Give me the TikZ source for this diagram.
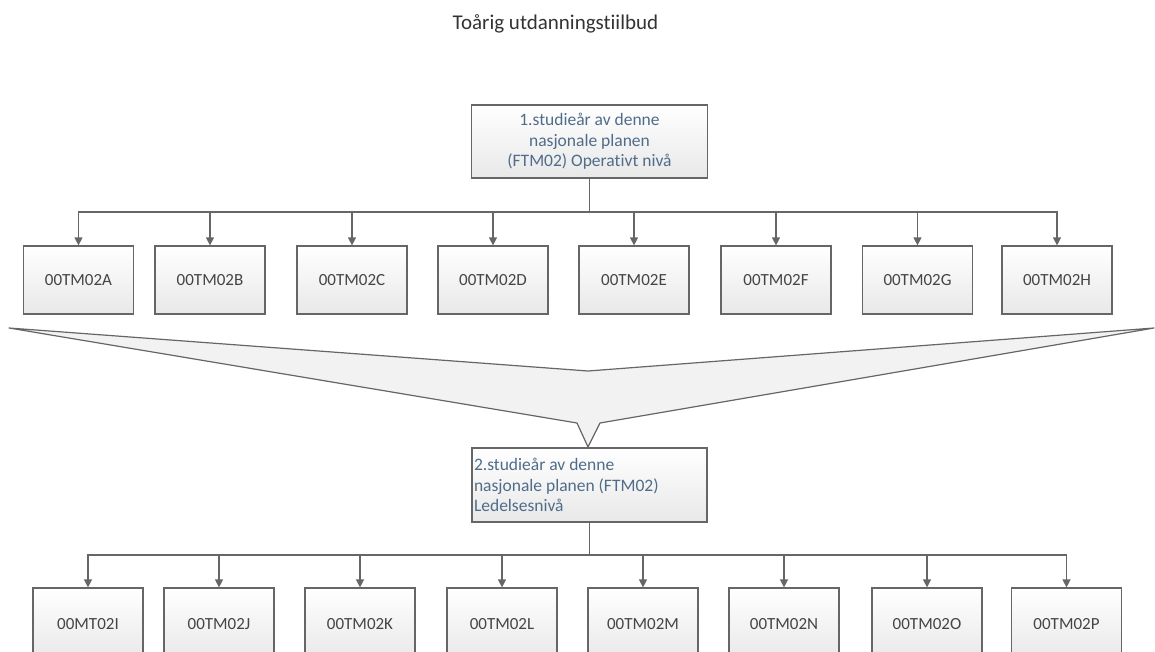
\documentclass[tikz,border=0pt]{standalone}
\usepackage{fontspec}
\setmainfont{Carlito}[Ligatures=NoCommon]
\usetikzlibrary{arrows.meta,calc}
\definecolor{linec}{HTML}{666666}
\definecolor{txtblue}{HTML}{4F6C8A}
\definecolor{txtgray}{HTML}{454545}
\begin{document}
\begin{tikzpicture}[x=1pt,y=-1pt,
  box/.style={draw=linec, line width=1.2pt, top color=white, bottom color=black!9,
    minimum width=110pt, minimum height=68pt, inner sep=0pt, text=txtgray,
    font=\fontsize{17}{20}\selectfont},
  lowbox/.style={box, minimum height=72pt},
  headbox/.style={draw=linec, line width=1.2pt, top color=white, bottom color=black!9,
    minimum width=236pt, minimum height=73pt, inner sep=0pt, text=txtblue,
    font=\fontsize{17.5}{20.5}\selectfont},
  arr/.style={draw=linec, line width=1.2pt, -{Triangle[width=8pt,length=8pt]}},
  ln/.style={draw=linec, line width=1.2pt}]
\useasboundingbox (0,0) rectangle (1155,652);
\clip (0,0) rectangle (1155,652);

\node[text=black!80, font=\fontsize{21}{24}\selectfont] (title) at (555.5,24) {Toårig utdanningstiilbud};

% big merging arrow shape
\draw[ln, fill=black!5, line join=round] (9,328) -- (588,371) -- (1154,328) -- (600,423) -- (588,447) -- (577,423) -- cycle;

\node[headbox, align=center] (top) at (589.5,141.5) {1.studieår av denne\\nasjonale planen\\(FTM02) Operativt nivå};

\node[box] (A) at (78.5,280) {00TM02A};
\node[box] (B) at (210,280) {00TM02B};
\node[box] (C) at (352,280) {00TM02C};
\node[box] (D) at (493,280) {00TM02D};
\node[box] (E) at (634,280) {00TM02E};
\node[box] (F) at (776,280) {00TM02F};
\node[box] (G) at (917.5,280) {00TM02G};
\node[box] (H) at (1057,280) {00TM02H};

\coordinate (j1) at (589.5,212);
\foreach \n in {A,B,C,D,E,F,G,H}
  \draw[arr] (top.south) -- (top.south |- j1) -| (\n.north);

\node[headbox, minimum width=235pt, minimum height=74pt, align=flush left, text width=231pt, inner xsep=1.5pt] (mid) at (589.5,485)
  {2.studieår av denne\\nasjonale planen (FTM02)\\Ledelsesnivå};

\node[lowbox] (I) at (88,624) {00MT02I};
\node[lowbox] (J) at (219,624) {00TM02J};
\node[lowbox] (K) at (360,624) {00TM02K};
\node[lowbox] (L) at (502,624) {00TM02L};
\node[lowbox] (M) at (643,624) {00TM02M};
\node[lowbox] (N) at (784,624) {00TM02N};
\node[lowbox] (O) at (927,624) {00TM02O};
\node[lowbox] (P) at (1066.5,624) {00TM02P};

\coordinate (j2) at (589.5,555);
\foreach \n in {I,J,K,L,M,N,O,P}
  \draw[arr] (mid.south) -- (mid.south |- j2) -| (\n.north);
\end{tikzpicture}
\end{document}
